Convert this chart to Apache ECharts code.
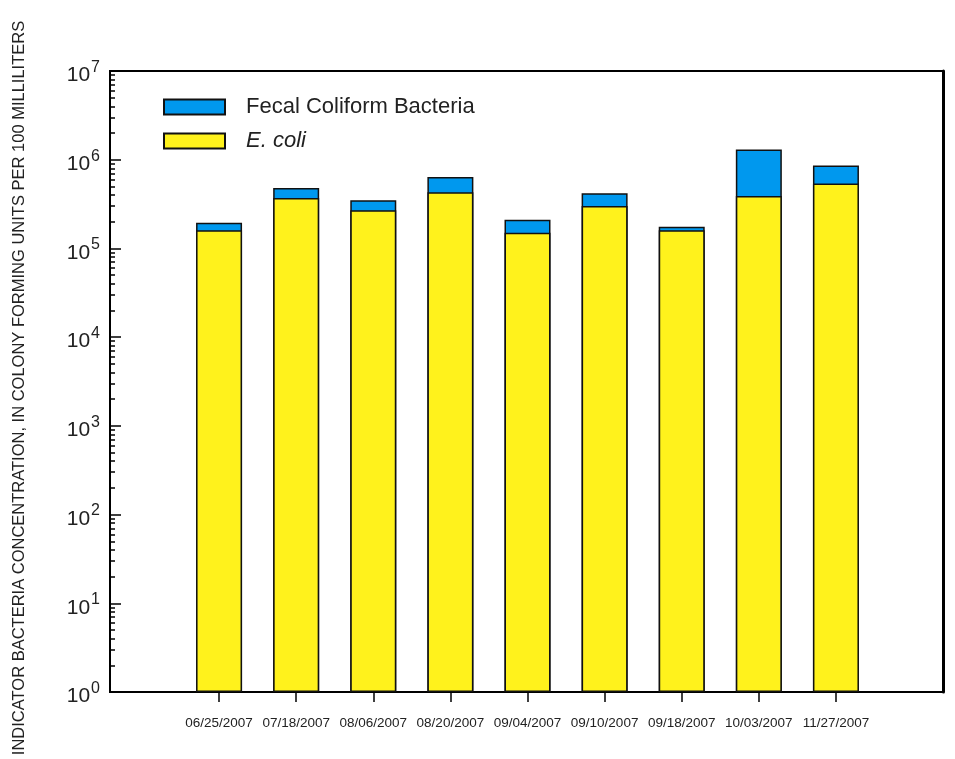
<!DOCTYPE html>
<html>
<head>
<meta charset="utf-8">
<script src="https://cdn.jsdelivr.net/npm/echarts@6/dist/echarts.min.js"></script>
<style>
  html, body { margin: 0; padding: 0; background: #fff; }
  #chart { width: 955px; height: 759px; }
</style>
</head>
<body>
<div id="chart"></div>
<script>
// Sample dates
const sampleDates = ['06/25/2007', '07/18/2007', '08/06/2007', '08/20/2007', '09/04/2007',
                     '09/10/2007', '09/18/2007', '10/03/2007', '11/27/2007'];
// Fecal coliform bacteria, colonies per 100 mL
const fecalColiform = [195000, 480000, 350000, 640000, 210000, 420000, 175000, 1300000, 860000];
// E. coli, colonies per 100 mL
const eColi = [160000, 370000, 270000, 430000, 150000, 300000, 160000, 390000, 540000];
// Decade tick values on the log axis
const decadeTicks = [1, 10, 100, 1000, 10000, 100000, 1000000, 10000000];
// Minor tick multipliers inside each decade
const minorMultipliers = [2, 3, 4, 5, 6, 7, 8, 9];

const minorTicks = [];
decadeTicks.slice(0, -1).forEach(d => minorMultipliers.forEach(m => minorTicks.push(d * m)));

const FONT = '"Liberation Sans", Arial, sans-serif';
const chart = echarts.init(document.getElementById('chart'));

chart.setOption({
  backgroundColor: '#fff',
  animation: false,
  textStyle: { fontFamily: FONT },
  grid: [
    // frame with the log axis
    { left: 110, right: 12, top: 71, bottom: 67, show: true, borderColor: '#000', borderWidth: 2, backgroundColor: 'transparent' },
    // inner band where the sample dates sit
    { left: 180.5, right: 80.5, top: 71, bottom: 67 }
  ],
  xAxis: [
    { gridIndex: 0, type: 'value', min: 0, max: 1, show: false },
    {
      gridIndex: 1, type: 'category', data: sampleDates,
      axisLine: { show: false },
      axisTick: { show: true, alignWithLabel: true, length: 10, inside: false, lineStyle: { color: '#000', width: 1.5 } },
      axisLabel: { color: '#222', fontSize: 13.5, margin: 24, fontFamily: FONT, interval: 0 },
      splitLine: { show: false }
    }
  ],
  yAxis: [
    {
      gridIndex: 0, type: 'log', logBase: 10, min: 1, max: 10000000, position: 'left',
      axisLine: { show: true, lineStyle: { color: '#000', width: 2 } },
      axisTick: { show: true, inside: true, length: 11, customValues: decadeTicks, lineStyle: { color: '#000', width: 1.5 } },
      axisLabel: {
        customValues: decadeTicks, margin: 10, padding: [9, 0, 0, 0],
        formatter: v => '{b|10}{s|' + Math.round(Math.log10(v)) + '}',
        rich: {
          b: { fontSize: 21, lineHeight: 32, color: '#222', fontFamily: FONT },
          s: { fontSize: 16, lineHeight: 16, verticalAlign: 'top', color: '#222', fontFamily: FONT, padding: [0, 0, 0, 1] }
        }
      },
      splitLine: { show: false }
    },
    {
      // minor ticks between decades
      gridIndex: 0, type: 'log', logBase: 10, min: 1, max: 10000000, position: 'left',
      axisLine: { show: false },
      axisTick: { show: true, inside: true, length: 5, customValues: minorTicks, lineStyle: { color: '#000', width: 1.5 } },
      axisLabel: { show: false },
      splitLine: { show: false }
    },
    {
      // heavier right frame edge
      gridIndex: 0, type: 'log', logBase: 10, min: 1, max: 10000000, position: 'right',
      axisLine: { show: true, lineStyle: { color: '#000', width: 3 } },
      axisTick: { show: false }, axisLabel: { show: false }, splitLine: { show: false }
    },
    { gridIndex: 1, type: 'log', logBase: 10, min: 1, max: 10000000, show: false }
  ],
  legend: {
    orient: 'vertical', left: 158, top: 91, itemWidth: 61, itemHeight: 15, itemGap: 12,
    icon: 'rect',
    data: ['Fecal Coliform Bacteria', 'E. coli'],
    formatter: name => name === 'E. coli' ? '{i|E. coli}' : '{n|' + name + '}',
    textStyle: {
      color: '#222', fontSize: 22, fontFamily: FONT, padding: [0, 0, 0, 16],
      rich: {
        n: { fontSize: 22, color: '#222', fontFamily: FONT },
        i: { fontSize: 22, fontStyle: 'italic', color: '#222', fontFamily: FONT }
      }
    }
  },
  graphic: [{
    type: 'text', x: 19, y: 388, rotation: Math.PI / 2,
    style: {
      text: 'INDICATOR BACTERIA CONCENTRATION, IN COLONY FORMING UNITS PER 100 MILLILITERS',
      font: '16.5px "Liberation Sans", Arial, sans-serif', fill: '#222',
      textAlign: 'center', textVerticalAlign: 'middle'
    }
  }],
  series: [
    {
      name: 'Fecal Coliform Bacteria', type: 'bar', xAxisIndex: 1, yAxisIndex: 3,
      data: fecalColiform, barWidth: 46, barGap: '-100%',
      itemStyle: { color: '#0098EE', borderColor: '#111', borderWidth: 1.5 }
    },
    {
      name: 'E. coli', type: 'bar', xAxisIndex: 1, yAxisIndex: 3,
      data: eColi, barWidth: 46, barGap: '-100%',
      itemStyle: { color: '#FFF21C', borderColor: '#111', borderWidth: 1.5 }
    }
  ]
});
</script>
</body>
</html>
